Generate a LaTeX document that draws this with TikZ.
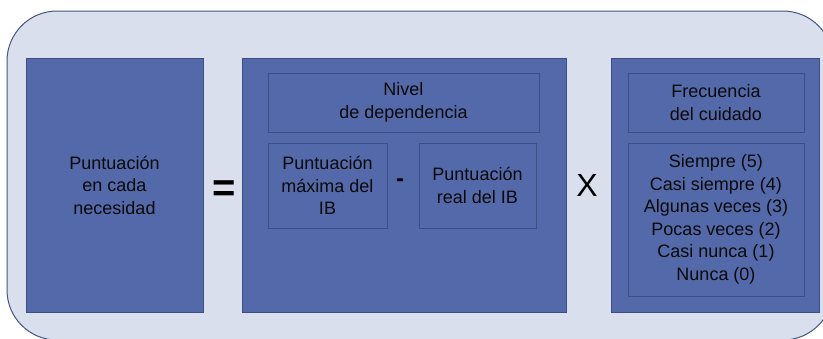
\documentclass[tikz,border=0pt]{standalone}
\usepackage{fontspec}
\setmainfont{Liberation Sans}
\definecolor{bgfill}{HTML}{D9DFEC}
\definecolor{bgline}{HTML}{44557F}
\definecolor{boxfill}{HTML}{5469A9}
\definecolor{boxline}{HTML}{3B4E86}
\definecolor{txt}{HTML}{0A0A0A}
\begin{document}
\begin{tikzpicture}[x=1pt,y=-1pt,
  outerbox/.style={draw=bgline,fill=bgfill,line width=1pt,rounded corners=50pt},
  bigbox/.style={draw=boxline,fill=boxfill,line width=1pt},
  innerbox/.style={draw=boxline,line width=1pt},
  lbl/.style={text=txt,align=center,font=\fontsize{18}{22.5}\selectfont,inner sep=0pt},
  op/.style={text=black,inner sep=0pt}]
\useasboundingbox (0,0) rectangle (823,338);
\draw[outerbox] (7,11) rectangle (833,340);
% big boxes
\draw[bigbox] (26,58) rectangle (203,312);
\draw[bigbox] (242,58) rectangle (566,312);
\draw[bigbox] (611,58) rectangle (819,312);
% inner boxes
\draw[innerbox] (268,73) rectangle (539,132);
\draw[innerbox] (268,143) rectangle (387,228);
\draw[innerbox] (419,143) rectangle (536,228);
\draw[innerbox] (628,73) rectangle (804,132);
\draw[innerbox] (628,143) rectangle (804,296);
% texts
\node[lbl] (pcn) at (114.5,185) {Puntuación\\en cada\\necesidad};
\node[lbl] (niv) at (403.5,102.5) {Nivel\\de dependencia};
\node[lbl] (pmax) at (327.5,185.5) {Puntuación\\máxima del\\IB};
\node[lbl] (preal) at (477.5,185.5) {Puntuación\\real del IB};
\node[lbl] (frec) at (716,102.5) {Frecuencia\\del cuidado};
\node[lbl] (lista) at (716,219.5) {Siempre (5)\\Casi siempre (4)\\Algunas veces (3)\\Pocas veces (2)\\Casi nunca (1)\\Nunca (0)};
% operators
\node[op,font=\bfseries\fontsize{40}{40}\selectfont] (eq) at (224,191) {=};
\node[op,font=\bfseries\fontsize{24}{24}\selectfont] (minus) at (400,183) {-};
\node[op,font=\fontsize{32}{32}\selectfont] (times) at (587,185) {X};
\end{tikzpicture}
\end{document}
